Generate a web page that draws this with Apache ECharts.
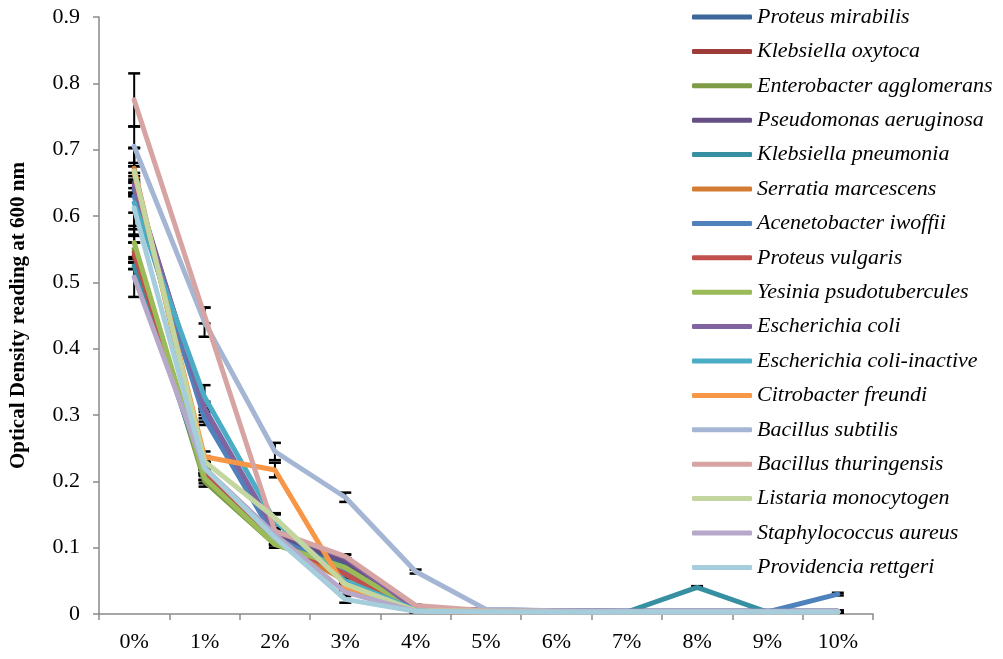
<!DOCTYPE html>
<html>
<head>
<meta charset="utf-8">
<style>
  html, body { margin: 0; padding: 0; background: #ffffff; }
  #chart { width: 1003px; height: 659px; }
</style>
<script src="https://cdn.jsdelivr.net/npm/echarts@6/dist/echarts.min.js"></script>
</head>
<body>
<div id="chart"></div>
<script>
// Concentration categories on the x axis
const categories = ['0%', '1%', '2%', '3%', '4%', '5%', '6%', '7%', '8%', '9%', '10%'];

// Optical density at 600 nm for each organism
const proteusMirabilis      = [0.640, 0.300, 0.120, 0.075, 0.008, 0.005, 0.004, 0.004, 0.004, 0.004, 0.004];
const klebsiellaOxytoca     = [0.540, 0.210, 0.110, 0.065, 0.006, 0.004, 0.003, 0.003, 0.003, 0.003, 0.003];
const enterobacterAgglo     = [0.550, 0.200, 0.105, 0.070, 0.006, 0.004, 0.003, 0.003, 0.003, 0.003, 0.003];
const pseudomonasAerug      = [0.650, 0.305, 0.120, 0.080, 0.008, 0.006, 0.005, 0.004, 0.004, 0.004, 0.004];
const klebsiellaPneumonia   = [0.525, 0.210, 0.110, 0.060, 0.006, 0.004, 0.003, 0.003, 0.040, 0.003, 0.003];
const serratiaMarcescens    = [0.672, 0.220, 0.110, 0.050, 0.004, 0.003, 0.003, 0.003, 0.003, 0.003, 0.003];
const acenetobacterIwoffii  = [0.630, 0.295, 0.115, 0.065, 0.006, 0.004, 0.003, 0.003, 0.003, 0.003, 0.030];
const proteusVulgaris       = [0.545, 0.210, 0.110, 0.060, 0.005, 0.004, 0.003, 0.003, 0.003, 0.003, 0.003];
const yesiniaPsudotuber     = [0.560, 0.205, 0.105, 0.070, 0.006, 0.004, 0.003, 0.003, 0.003, 0.003, 0.003];
const escherichiaColi       = [0.645, 0.310, 0.125, 0.085, 0.008, 0.006, 0.005, 0.004, 0.004, 0.004, 0.004];
const escherichiaColiInact  = [0.620, 0.327, 0.140, 0.050, 0.006, 0.004, 0.003, 0.003, 0.003, 0.003, 0.003];
const citrobacterFreundi    = [0.665, 0.237, 0.217, 0.040, 0.004, 0.003, 0.003, 0.003, 0.003, 0.003, 0.003];
const bacillusSubtilis      = [0.705, 0.440, 0.245, 0.176, 0.064, 0.007, 0.005, 0.004, 0.004, 0.004, 0.004];
const bacillusThuringensis  = [0.775, 0.450, 0.125, 0.087, 0.013, 0.005, 0.004, 0.003, 0.003, 0.003, 0.003];
const listariaMonocytogen   = [0.668, 0.230, 0.145, 0.045, 0.005, 0.004, 0.003, 0.003, 0.003, 0.003, 0.003];
const staphylococcusAureus  = [0.508, 0.220, 0.120, 0.033, 0.004, 0.003, 0.003, 0.003, 0.003, 0.003, 0.003];
const providenciaRettgeri   = [0.612, 0.220, 0.115, 0.022, 0.004, 0.003, 0.003, 0.003, 0.003, 0.003, 0.003];

// Standard deviations (error bar half-lengths)
const proteusMirabilisErr      = [0.010, 0.010, 0.005, 0.005, 0.001, 0, 0, 0, 0, 0, 0.001];
const klebsiellaOxytocaErr     = [0.020, 0.008, 0.005, 0.004, 0.001, 0, 0, 0, 0, 0, 0.001];
const enterobacterAggloErr     = [0.020, 0.008, 0.005, 0.004, 0.001, 0, 0, 0, 0, 0, 0.001];
const pseudomonasAerugErr      = [0.015, 0.010, 0.005, 0.004, 0.001, 0, 0, 0, 0, 0, 0.001];
const klebsiellaPneumoniaErr   = [0.005, 0.008, 0.005, 0.004, 0.001, 0, 0, 0, 0.002, 0, 0.001];
const serratiaMarcescensErr    = [0.030, 0.008, 0.005, 0.004, 0.001, 0, 0, 0, 0, 0, 0.001];
const acenetobacterIwoffiiErr  = [0.050, 0.010, 0.005, 0.004, 0.001, 0, 0, 0, 0, 0, 0.002];
const proteusVulgarisErr       = [0.015, 0.008, 0.005, 0.004, 0.001, 0, 0, 0, 0, 0, 0.001];
const yesiniaPsudotuberErr     = [0.025, 0.008, 0.005, 0.004, 0.001, 0, 0, 0, 0, 0, 0.001];
const escherichiaColiErr       = [0.015, 0.010, 0.005, 0.004, 0.001, 0, 0, 0, 0, 0, 0.001];
const escherichiaColiInactErr  = [0.015, 0.018, 0.012, 0.004, 0.001, 0, 0, 0, 0, 0, 0.001];
const citrobacterFreundiErr    = [0.010, 0.008, 0.011, 0.004, 0.001, 0, 0, 0, 0, 0, 0.001];
const bacillusSubtilisErr      = [0.030, 0.022, 0.013, 0.007, 0.003, 0, 0, 0, 0, 0, 0.001];
const bacillusThuringensisErr  = [0.040, 0.012, 0.010, 0.003, 0.001, 0, 0, 0, 0, 0, 0.001];
const listariaMonocytogenErr   = [0.035, 0.008, 0.005, 0.004, 0.001, 0, 0, 0, 0, 0, 0.001];
const staphylococcusAureusErr  = [0.030, 0.008, 0.005, 0.004, 0.001, 0, 0, 0, 0, 0, 0.001];
const providenciaRettgeriErr   = [0.040, 0.010, 0.005, 0.005, 0.001, 0, 0, 0, 0, 0, 0.001];

const seriesNames = [
  'Proteus mirabilis', 'Klebsiella oxytoca', 'Enterobacter agglomerans', 'Pseudomonas aeruginosa',
  'Klebsiella pneumonia', 'Serratia marcescens', 'Acenetobacter iwoffii', 'Proteus vulgaris',
  'Yesinia psudotubercules', 'Escherichia coli', 'Escherichia coli-inactive', 'Citrobacter freundi',
  'Bacillus subtilis', 'Bacillus thuringensis', 'Listaria monocytogen', 'Staphylococcus aureus',
  'Providencia rettgeri'
];
const seriesValues = [
  proteusMirabilis, klebsiellaOxytoca, enterobacterAgglo, pseudomonasAerug,
  klebsiellaPneumonia, serratiaMarcescens, acenetobacterIwoffii, proteusVulgaris,
  yesiniaPsudotuber, escherichiaColi, escherichiaColiInact, citrobacterFreundi,
  bacillusSubtilis, bacillusThuringensis, listariaMonocytogen, staphylococcusAureus,
  providenciaRettgeri
];
const seriesErrors = [
  proteusMirabilisErr, klebsiellaOxytocaErr, enterobacterAggloErr, pseudomonasAerugErr,
  klebsiellaPneumoniaErr, serratiaMarcescensErr, acenetobacterIwoffiiErr, proteusVulgarisErr,
  yesiniaPsudotuberErr, escherichiaColiErr, escherichiaColiInactErr, citrobacterFreundiErr,
  bacillusSubtilisErr, bacillusThuringensisErr, listariaMonocytogenErr, staphylococcusAureusErr,
  providenciaRettgeriErr
];
const seriesColors = [
  '#3c679a', '#9d3c39', '#7e9b46', '#654f85', '#378fa2', '#d47c33',
  '#4f81bd', '#c0504d', '#9bbb59', '#8064a2', '#4bacc6', '#f79646',
  '#a5b6d4', '#d6a4a2', '#c3d6a0', '#b5a8c9', '#a6cddb'
];

const serif = '"Liberation Serif", "Times New Roman", "DejaVu Serif", serif';

// Flatten error bars into [categoryIndex, low, high]
const errorData = [];
seriesValues.forEach((vals, s) => {
  vals.forEach((v, i) => {
    const e = seriesErrors[s][i];
    if (e > 0) errorData.push([i, v - e, v + e]);
  });
});

const lineSeries = seriesNames.map((name, s) => ({
  name: name,
  type: 'line',
  data: seriesValues[s],
  symbol: 'none',
  smooth: false,
  z: 3,
  color: seriesColors[s],
  lineStyle: { width: 5, color: seriesColors[s], cap: 'round', join: 'round' }
}));

const errorSeries = {
  type: 'custom',
  name: 'errors',
  z: 2,
  silent: true,
  data: errorData,
  encode: { x: 0, y: [1, 2] },
  renderItem: function (params, api) {
    const lo = api.coord([api.value(0), api.value(1)]);
    const hi = api.coord([api.value(0), api.value(2)]);
    const x = lo[0];
    const hw = 6;
    return {
      type: 'group',
      children: [
        { type: 'line', shape: { x1: x, y1: lo[1], x2: x, y2: hi[1] }, style: { stroke: '#000', lineWidth: 2 } },
        { type: 'line', shape: { x1: x - hw, y1: lo[1], x2: x + hw, y2: lo[1] }, style: { stroke: '#000', lineWidth: 2.5 } },
        { type: 'line', shape: { x1: x - hw, y1: hi[1], x2: x + hw, y2: hi[1] }, style: { stroke: '#000', lineWidth: 2.5 } }
      ]
    };
  }
};

const chart = echarts.init(document.getElementById('chart'), null, { renderer: 'canvas' });
chart.setOption({
  animation: false,
  backgroundColor: '#ffffff',
  grid: { left: 96, right: 130, top: 17, bottom: 45, containLabel: false },
  legend: {
    data: seriesNames,
    orient: 'vertical',
    left: 687,
    top: 1,
    itemWidth: 60,
    itemHeight: 5,
    itemGap: 12.4,
    icon: 'roundRect',
    textStyle: {
      fontFamily: serif,
      fontStyle: 'italic',
      fontSize: 22,
      lineHeight: 22,
      color: '#000'
    }
  },
  xAxis: {
    type: 'category',
    data: categories,
    boundaryGap: true,
    axisLine: { show: true, lineStyle: { color: '#8a8a8a', width: 1.5 } },
    axisTick: { show: true, length: 6, lineStyle: { color: '#8a8a8a', width: 1.5 } },
    axisLabel: { color: '#000', fontFamily: serif, fontSize: 22, margin: 17 },
    splitLine: { show: false }
  },
  yAxis: {
    type: 'value',
    min: 0,
    max: 0.9,
    interval: 0.1,
    name: 'Optical Density reading at 600 nm',
    nameLocation: 'middle',
    nameGap: 70,
    nameRotate: 90,
    nameTextStyle: { fontFamily: serif, fontWeight: 'bold', fontSize: 21, color: '#000' },
    axisLine: { show: true, lineStyle: { color: '#8a8a8a', width: 1.5 } },
    axisTick: { show: true, length: 6, inside: false, lineStyle: { color: '#8a8a8a', width: 1.5 } },
    axisLabel: {
      color: '#000', fontFamily: serif, fontSize: 22, margin: 19,
      formatter: function (v) { return v === 0 ? '0' : v.toFixed(1); }
    },
    splitLine: { show: false }
  },
  series: [errorSeries].concat(lineSeries)
});
</script>
</body>
</html>
